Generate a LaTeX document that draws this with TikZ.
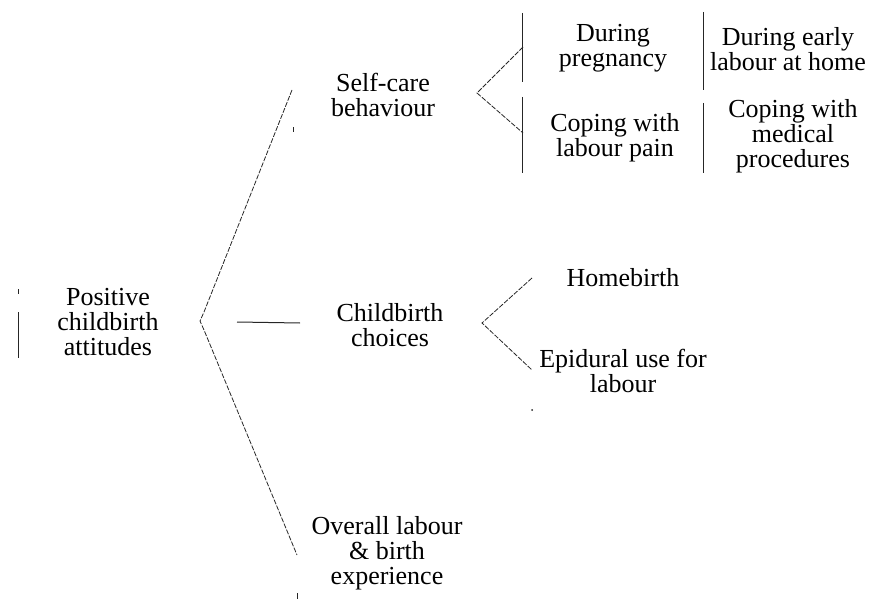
\documentclass[tikz,border=0pt]{standalone}
\usepackage{fontspec}
\setmainfont{Liberation Serif}
\begin{document}
\begin{tikzpicture}[x=1pt,y=-1pt,
  label/.style={align=center,font=\fontsize{26}{25}\selectfont,inner sep=0pt},
  branch/.style={draw=black!85,line width=0.8pt,dash pattern=on 5pt off 1.5pt},
  rule/.style={draw=black!85,line width=1pt}]
\useasboundingbox (0,0) rectangle (877,599);

% text of the tree
\node[label] (root) at (108,322) {Positive\\childbirth\\attitudes};
\node[label] (self) at (383,95) {Self-care\\behaviour};
\node[label] (choice) at (390,325) {Childbirth\\choices};
\node[label] (overall) at (387,553) {Overall labour\\\& birth\\experience};
\node[label] (preg) at (613,48) {During\\pregnancy};
\node[label] (pain) at (615,138) {Coping with\\labour pain};
\node[label] (early) at (788,49) {During early\\labour at home};
\node[label] (medical) at (793,136) {Coping with\\medical\\procedures};
\node[label] (home) at (623,278) {Homebirth};
\node[label] (epidural) at (623,371) {Epidural use for\\labour};

% end points of the brackets and rules
\coordinate (rootTop) at (292,90);
\coordinate (rootA) at (204,312);
\coordinate (rootTip) at (200,321);
\coordinate (rootB) at (204,330);
\coordinate (rootBot) at (297,555);
\coordinate (midL) at (237,322);
\coordinate (midR) at (300,323);
\coordinate (selfTip) at (477,93);
\coordinate (selfUp) at (523,47);
\coordinate (selfDn) at (523,133);
\coordinate (chTip) at (482,323);
\coordinate (chUp) at (532,278);
\coordinate (chDn) at (532,370);

% main bracket from the root and the middle link
\draw[branch] (rootTop) -- (rootA) -- (rootTip) -- (rootB) -- (rootBot);
\draw[rule] (midL) -- (midR);

% brackets of the two sub-trees
\draw[branch] (selfUp) -- (selfTip) -- (selfDn);
\draw[branch] (chUp) -- (chTip) -- (chDn);

% vertical rules
\coordinate (l1) at (18,312); \coordinate (l2) at (18,358);
\draw[rule] (l1) -- (l2);
\coordinate (t1) at (18,289); \coordinate (t2) at (18,294);
\draw[rule,line width=0.7pt] (t1) -- (t2);
\coordinate (a1) at (522,13); \coordinate (a2) at (522,82);
\coordinate (a3) at (522,97); \coordinate (a4) at (522,173);
\draw[rule] (a1) -- (a2) (a3) -- (a4);
\coordinate (b1) at (703,12); \coordinate (b2) at (703,90);
\coordinate (b3) at (703,103); \coordinate (b4) at (703,173);
\draw[rule] (b1) -- (b2) (b3) -- (b4);

% small marks
\coordinate (m1) at (293,127); \coordinate (m2) at (293,132);
\draw[rule,line width=0.7pt] (m1) -- (m2);
\coordinate (m3) at (297,593); \coordinate (m4) at (297,599);
\draw[rule,line width=0.7pt] (m3) -- (m4);
\coordinate (dot) at (532,410);
\fill[black!85] (dot) circle (1);
\end{tikzpicture}
\end{document}
